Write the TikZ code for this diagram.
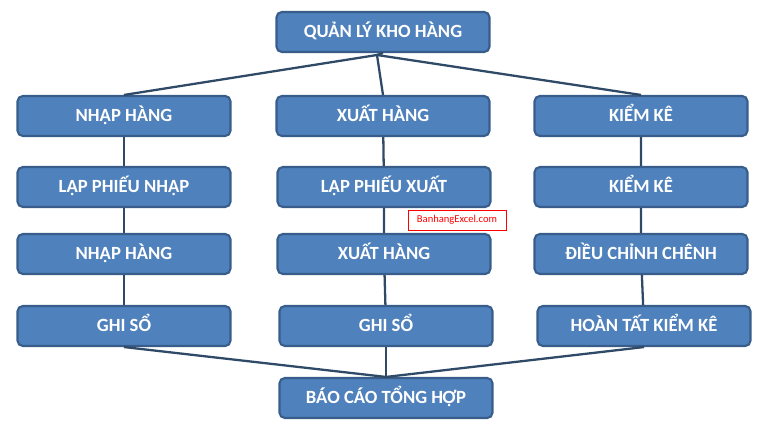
\documentclass[tikz,border=0pt]{standalone}
\usepackage{fontspec}
\setmainfont{Carlito}
\usepackage{tikz}
\definecolor{boxfill}{HTML}{4F81BD}
\definecolor{boxline}{HTML}{385D8A}
\definecolor{wire}{HTML}{2E4A66}
\tikzstyle{task}=[draw=boxline, line width=1.2pt, fill=boxfill, rounded corners=3pt, minimum width=4.26cm, minimum height=0.8cm, inner sep=0pt, text height=7pt, text depth=0.5pt, text=white, font=\bfseries\fontsize{10.6pt}{12pt}\selectfont]
\tikzstyle{wire}=[draw=wire, line width=1.3pt]

\begin{document}
\begin{tikzpicture}[x=0.02cm, y=-0.02cm]
        \useasboundingbox (0, 0) rectangle (768, 429);
        \node[task] (top) at (383, 32) {QUẢN LÝ KHO HÀNG};
        \node[task] (L1) at (124, 116) {NHẬP HÀNG};
        \node[task] (M1) at (383, 116) {XUẤT HÀNG};
        \node[task] (R1) at (641, 116) {KIỂM KÊ};
        \node[task] (L2) at (124, 187) {LẬP PHIẾU NHẬP};
        \node[task] (M2) at (384, 187) {LẬP PHIẾU XUẤT};
        \node[task] (R2) at (641, 187) {KIỂM KÊ};
        \node[task] (L3) at (124, 254) {NHẬP HÀNG};
        \node[task] (M3) at (384, 254) {XUẤT HÀNG};
        \node[task] (R3) at (641, 254) {ĐIỀU CHỈNH CHÊNH};
        \node[task] (L4) at (124, 326) {GHI SỔ};
        \node[task] (M4) at (386, 326) {GHI SỔ};
        \node[task] (R4) at (644, 326) {HOÀN TẤT KIỂM KÊ};
        \node[task] (bot) at (386, 398) {BÁO CÁO TỔNG HỢP};
        \coordinate (fork) at (377, 55);
        \draw[wire] (top.south) -- (fork);
        \draw[wire] (fork) -- (L1.north);
        \draw[wire] (fork) -- (M1.north);
        \draw[wire] (fork) -- (R1.north);
        \draw[wire] (L1) -- (L2) -- (L3) -- (L4);
        \draw[wire] (M1) -- (M2) -- (M3) -- (M4);
        \draw[wire] (R1) -- (R2) -- (R3) -- (R4);
        \draw[wire] (L4.south) -- (bot.north);
        \draw[wire] (M4.south) -- (bot.north);
        \draw[wire] (R4.south) -- (bot.north);
        \node[draw=red, fill=white, text=red, inner sep=2pt, minimum width=1.96cm, minimum height=0.4cm, font=\fontsize{6pt}{7pt}\selectfont] (mark) at (457, 220) {BanhangExcel.com};
    \end{tikzpicture}
\end{document}
